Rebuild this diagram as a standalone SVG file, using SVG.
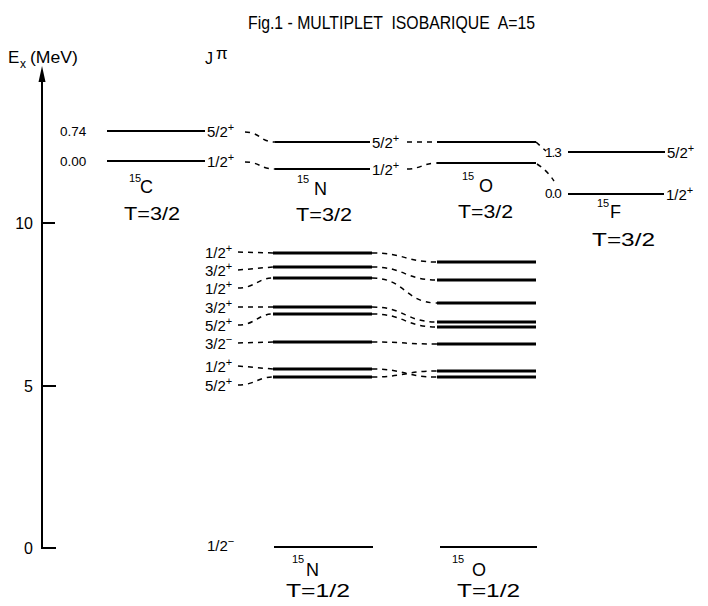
<svg xmlns="http://www.w3.org/2000/svg" width="708" height="606" viewBox="0 0 708 606">
<style>
text{font-family:"Liberation Sans","DejaVu Sans",Arial,sans-serif;fill:#000}
.t{font-size:18px}
.lab{font-size:15px}
.num{font-size:13.5px}
.sup{font-size:11px}
.nuc{font-size:18px}
.iso{font-size:18px}
.lv{stroke:#000;stroke-width:2.2;fill:none}
.lv2{stroke:#000;stroke-width:2.8;fill:none}
.ax{stroke:#000;stroke-width:2;fill:none}
.dash{stroke:#000;stroke-width:1.5;fill:none;stroke-dasharray:5 5}
</style>
<g id="title">
<text class="t" x="248" y="29" textLength="287" lengthAdjust="spacingAndGlyphs" style="white-space:pre">Fig.1 - MULTIPLET  ISOBARIQUE  A=15</text>
</g>
<g id="axis">
<text x="8" y="63" style="font-size:17px">E</text>
<text x="20" y="68" style="font-size:12px">x</text>
<text x="30" y="63" style="font-size:16px" textLength="48" lengthAdjust="spacingAndGlyphs">(MeV)</text>
<line class="ax" x1="42" y1="78" x2="42" y2="548"/>
<polygon points="42,66 38.5,82 45.5,82" fill="#000"/>
<line class="ax" x1="41" y1="223" x2="55" y2="223"/>
<line class="ax" x1="41" y1="386" x2="56" y2="386"/>
<line class="ax" x1="41" y1="548" x2="56" y2="548"/>
<text class="lab" x="33" y="229" text-anchor="end" style="font-size:16px">10</text>
<text class="lab" x="33" y="392" text-anchor="end" style="font-size:16px">5</text>
<text class="lab" x="33" y="554" text-anchor="end" style="font-size:16px">0</text>
</g>
<g id="jpi-head">
<text x="205" y="64" style="font-size:16px">J</text>
<text x="216" y="59" style="font-size:17px">π</text>
</g>
<g id="n15C">
<text class="num" x="60" y="136">0.74</text>
<line class="lv" x1="107" y1="131" x2="205" y2="131"/>
<text class="lab" x="207" y="137">5/2<tspan class="sup" dy="-6">+</tspan></text>
<text class="num" x="60" y="166">0.00</text>
<line class="lv" x1="107" y1="161" x2="205" y2="161"/>
<text class="lab" x="207" y="167">1/2<tspan class="sup" dy="-6">+</tspan></text>
<text class="sup" x="129" y="182">15</text>
<text class="nuc" x="140" y="193">C</text>
<text class="iso" x="124" y="220" textLength="56" lengthAdjust="spacingAndGlyphs">T=3/2</text>
</g>
<g id="n15N-T32">
<line class="lv" x1="275" y1="142" x2="370" y2="142"/>
<text class="lab" x="372" y="148">5/2<tspan class="sup" dy="-6">+</tspan></text>
<line class="lv" x1="275" y1="169" x2="370" y2="169"/>
<text class="lab" x="372" y="175">1/2<tspan class="sup" dy="-6">+</tspan></text>
<text class="sup" x="297" y="183">15</text>
<text class="nuc" x="314" y="195">N</text>
<text class="iso" x="296" y="221" textLength="56" lengthAdjust="spacingAndGlyphs">T=3/2</text>
</g>
<g id="n15O-T32">
<line class="lv" x1="437" y1="142" x2="536" y2="142"/>
<line class="lv" x1="437" y1="163" x2="536" y2="163"/>
<text class="sup" x="462" y="180">15</text>
<text class="nuc" x="479" y="192">O</text>
<text class="iso" x="458" y="218" textLength="55" lengthAdjust="spacingAndGlyphs">T=3/2</text>
</g>
<g id="n15F">
<text class="num" x="545" y="157" style="letter-spacing:-1px">1.3</text>
<line class="lv" x1="568" y1="152" x2="665" y2="152"/>
<text class="lab" x="667" y="158">5/2<tspan class="sup" dy="-6">+</tspan></text>
<text class="num" x="545" y="198" style="letter-spacing:-1px">0.0</text>
<line class="lv" x1="568" y1="194" x2="664" y2="194"/>
<text class="lab" x="666" y="200">1/2<tspan class="sup" dy="-6">+</tspan></text>
<text class="sup" x="597" y="207">15</text>
<text class="nuc" x="610" y="218">F</text>
<text class="iso" x="592" y="246" textLength="63" lengthAdjust="spacingAndGlyphs">T=3/2</text>
</g>
<g id="n15N-T12">
<text class="lab" x="205" y="258">1/2<tspan class="sup" dy="-6">+</tspan></text>
<text class="lab" x="205" y="276">3/2<tspan class="sup" dy="-6">+</tspan></text>
<text class="lab" x="205" y="294">1/2<tspan class="sup" dy="-6">+</tspan></text>
<text class="lab" x="205" y="313">3/2<tspan class="sup" dy="-6">+</tspan></text>
<text class="lab" x="205" y="331">5/2<tspan class="sup" dy="-6">+</tspan></text>
<text class="lab" x="205" y="349">3/2<tspan class="sup" dy="-6">−</tspan></text>
<text class="lab" x="205" y="372">1/2<tspan class="sup" dy="-6">+</tspan></text>
<text class="lab" x="205" y="391">5/2<tspan class="sup" dy="-6">+</tspan></text>
<line class="lv2" x1="273" y1="253" x2="372" y2="253"/>
<line class="lv2" x1="273" y1="267" x2="372" y2="267"/>
<line class="lv2" x1="273" y1="278" x2="372" y2="278"/>
<line class="lv2" x1="273" y1="307" x2="372" y2="307"/>
<line class="lv2" x1="273" y1="314" x2="372" y2="314"/>
<line class="lv2" x1="273" y1="342" x2="372" y2="342"/>
<line class="lv2" x1="273" y1="369" x2="372" y2="369"/>
<line class="lv2" x1="273" y1="377" x2="372" y2="377"/>
<text class="lab" x="207" y="551">1/2<tspan class="sup" dy="-6">−</tspan></text>
<line class="lv" x1="274" y1="547" x2="373" y2="547"/>
<text class="sup" x="292" y="563">15</text>
<text class="nuc" x="306" y="576">N</text>
<text class="iso" x="286" y="597" textLength="64" lengthAdjust="spacingAndGlyphs">T=1/2</text>
</g>
<g id="n15O-T12">
<line class="lv2" x1="437" y1="262" x2="536" y2="262"/>
<line class="lv2" x1="437" y1="280" x2="536" y2="280"/>
<line class="lv2" x1="437" y1="303" x2="536" y2="303"/>
<line class="lv2" x1="437" y1="322" x2="536" y2="322"/>
<line class="lv2" x1="437" y1="327" x2="536" y2="327"/>
<line class="lv2" x1="437" y1="344" x2="536" y2="344"/>
<line class="lv2" x1="437" y1="371" x2="536" y2="371"/>
<line class="lv2" x1="437" y1="377" x2="536" y2="377"/>
<line class="lv" x1="440" y1="547" x2="537" y2="547"/>
<text class="sup" x="452" y="563">15</text>
<text class="nuc" x="472" y="576">O</text>
<text class="iso" x="457" y="597" textLength="63" lengthAdjust="spacingAndGlyphs">T=1/2</text>
</g>
<g id="connectors">
<path class="dash" d="M245,132 C260,132 260,142 275,142"/>
<path class="dash" d="M245,162 C260,162 260,169 275,169"/>
<path class="dash" d="M407,142 L437,142"/>
<path class="dash" d="M407,169 C420,169 424,163 437,163"/>
<path class="dash" d="M536,142 L546,151"/>
<path class="dash" d="M537,164 C545,169 550,175 554,181"/>
<path class="dash" d="M238,252 L273,253"/>
<path class="dash" d="M238,270 L273,267"/>
<path class="dash" d="M238,288 C255,288 258,278 273,278"/>
<path class="dash" d="M238,307 L273,307"/>
<path class="dash" d="M238,325 C255,325 258,314 273,314"/>
<path class="dash" d="M238,343 L273,342"/>
<path class="dash" d="M238,366 L273,369"/>
<path class="dash" d="M238,385 C255,385 258,377 273,377"/>
<path class="dash" d="M372,253 C405,253 405,262 437,262"/>
<path class="dash" d="M372,267 C405,267 405,280 437,280"/>
<path class="dash" d="M372,278 C405,278 405,303 437,303"/>
<path class="dash" d="M372,307 C405,307 405,322 437,322"/>
<path class="dash" d="M372,314 C405,314 405,327 437,327"/>
<path class="dash" d="M372,342 C405,342 405,344 437,344"/>
<path class="dash" d="M372,369 C405,369 405,377 437,377"/>
<path class="dash" d="M372,377 C405,377 405,371 437,371"/>
</g>
</svg>
